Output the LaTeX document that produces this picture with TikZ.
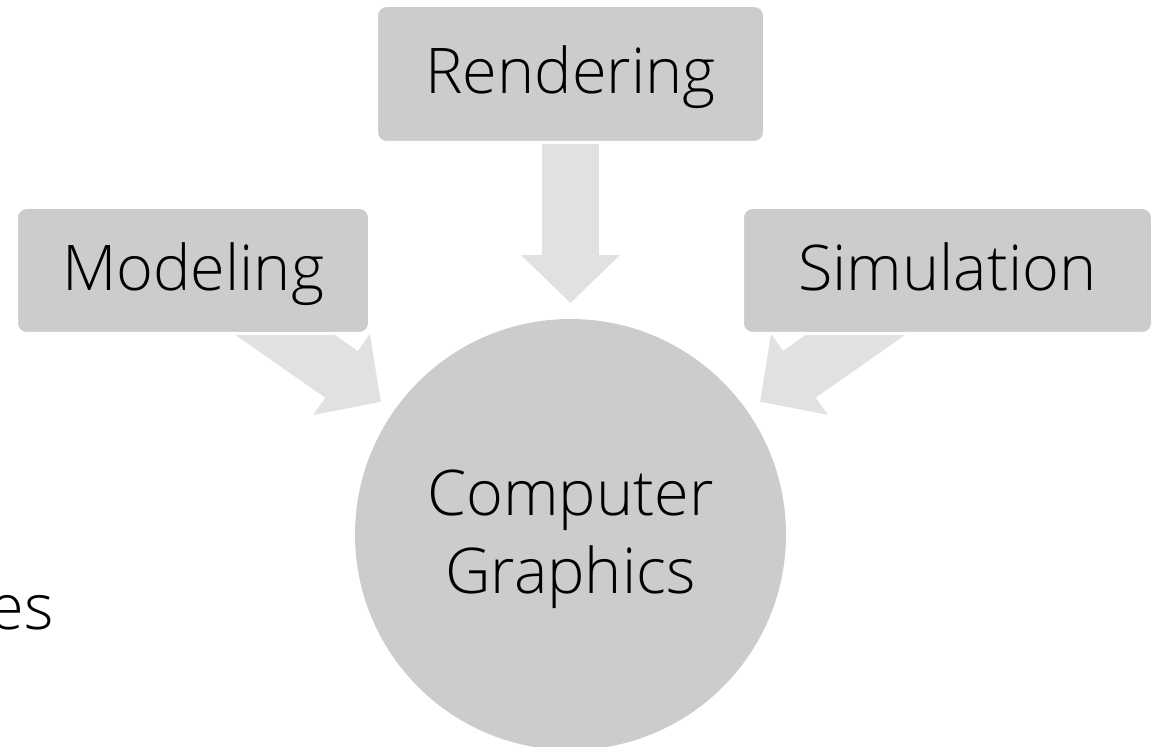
\documentclass[tikz,border=0pt]{standalone}
\usepackage{fontspec}
\IfFontExistsTF{Open Sans Light}{\setmainfont{Open Sans Light}}{\setmainfont{Open Sans}}
\usetikzlibrary{arrows.meta,positioning,backgrounds}
\definecolor{boxgray}{HTML}{CCCCCC}
\definecolor{flowgray}{HTML}{E1E1E1}

\begin{document}
\begin{tikzpicture}[
    x=0.5pt, y=-0.5pt,
    label font/.style={font=\fontsize{31.5}{39}\selectfont},
    topic/.style={rectangle, fill=boxgray, draw=white, line width=1.5pt, rounded corners=5pt, inner sep=0pt, text height=22pt, text depth=2pt, label font},
    hub/.style={circle, fill=boxgray, minimum size=215.5pt, inner sep=0pt, align=center, text depth=2.5pt, label font},
    flow/.style={draw=flowgray, line width=28.5pt, -{Triangle[width=48pt,length=24pt]}, shorten <=-20pt, shorten >=7.75pt}
]
    \useasboundingbox (0,0) rectangle (1158,747);

    % Centre
    \node[hub] (cg) at (570.5,534.5) {Computer\\Graphics};

    % Areas
    \node[topic, minimum width=194pt, minimum height=68.5pt] (rend) at (570.5,74) {Rendering};
    \node[topic, minimum width=176.5pt, minimum height=63pt] (model) at (193,270.5) {Modeling};
    \node[topic, minimum width=205pt, minimum height=63pt] (sim) at (947.5,270.5) {Simulation};

    % Cut-off word
    \node[label font, anchor=base east, inner sep=0pt] (cut) at (54,630) {es};

    % Flows
    \begin{pgfonlayer}{background}
        \draw[flow] (rend) -- (cg);
        \draw[flow] (model) -- (cg);
        \draw[flow] (sim) -- (cg);
    \end{pgfonlayer}
\end{tikzpicture}
\end{document}
